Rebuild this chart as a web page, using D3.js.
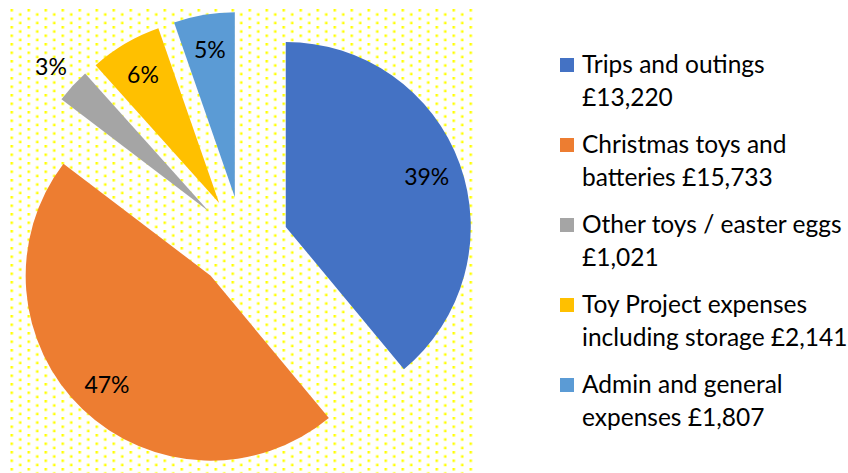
<!DOCTYPE html>
<html lang="en">
<head>
    <meta charset="UTF-8">
    <title>Expenditure pie</title>
    <script src="https://d3js.org/d3.v7.min.js"></script>
    <style>
        body {
            margin: 0;
            padding: 0;
            overflow: hidden;
            background-color: #ffffff;
            font-family: 'Lato', 'Noto Sans', sans-serif;
        }
        .pct-label {
            font-size: 23px;
            fill: #000000;
            text-anchor: middle;
            dominant-baseline: central;
        }
        .legend-text {
            font-size: 24.5px;
            fill: #000000;
        }
    </style>
</head>
<body>
    <svg id="chart" width="848" height="473"></svg>

    <script>
        // --- data ---
        const categories = [
            "Trips and outings",
            "Christmas toys and batteries",
            "Other toys / easter eggs",
            "Toy Project expenses including storage",
            "Admin and general expenses"
        ];
        const amounts = [13220, 15733, 1021, 2141, 1807];
        const pctLabels = ["39%", "47%", "3%", "6%", "5%"];
        // legend text as shown, split onto two lines
        const legendLines = [
            ["Trips and outings", "£13,220"],
            ["Christmas toys and", "batteries £15,733"],
            ["Other toys / easter eggs", "£1,021"],
            ["Toy Project expenses", "including storage £2,141"],
            ["Admin and general", "expenses £1,807"]
        ];
        const colors = ["#4472C4", "#ED7D31", "#A5A5A5", "#FFC000", "#5B9BD5"];

        // --- layout ---
        const svg = d3.select("#chart");
        const cx = 242.5, cy = 242.5;   // pie centre
        const radius = 185;
        const explode = 46;              // every slice pulled out

        // dotted plot area
        const defs = svg.append("defs");
        const pat = defs.append("pattern")
            .attr("id", "dots")
            .attr("patternUnits", "userSpaceOnUse")
            .attr("x", 10.5).attr("y", 9)
            .attr("width", 17).attr("height", 8.5);
        pat.append("rect").attr("x", 0).attr("y", 0).attr("width", 2.5).attr("height", 2.5).attr("fill", "#FFFF00");
        pat.append("rect").attr("x", 8.5).attr("y", 4.25).attr("width", 2.5).attr("height", 2.5).attr("fill", "#FFFF00");

        svg.append("rect")
            .attr("x", 10).attr("y", 9)
            .attr("width", 463).attr("height", 464)
            .attr("fill", "url(#dots)");

        const pie = d3.pie().sort(null).value(d => d);
        const arcs = pie(amounts);
        const arc = d3.arc().innerRadius(0).outerRadius(radius);
        const total = d3.sum(amounts);

        const g = svg.append("g").attr("transform", `translate(${cx},${cy})`);

        const slice = g.selectAll("g.slice")
            .data(arcs)
            .enter().append("g")
            .attr("class", "slice")
            .attr("transform", d => {
                const a = (d.startAngle + d.endAngle) / 2;
                return `translate(${Math.sin(a) * explode},${-Math.cos(a) * explode})`;
            });

        slice.append("path")
            .attr("d", arc)
            .attr("fill", (d, i) => colors[i]);

        // percentage labels: inside end, tiny slices pushed outside
        slice.append("text")
            .attr("class", "pct-label")
            .attr("transform", d => {
                const a = (d.startAngle + d.endAngle) / 2;
                const f = d.value / total < 0.04 ? 1.16 : 0.81;
                return `translate(${Math.sin(a) * radius * f},${-Math.cos(a) * radius * f})`;
            })
            .text((d, i) => pctLabels[i]);

        // --- legend ---
        const legend = svg.append("g").attr("transform", "translate(560,73)");
        const item = legend.selectAll("g")
            .data(categories)
            .enter().append("g")
            .attr("transform", (d, i) => `translate(0,${i * 80})`);

        item.append("rect")
            .attr("x", 0).attr("y", -15)
            .attr("width", 14).attr("height", 14)
            .attr("fill", (d, i) => colors[i]);

        item.append("text")
            .attr("class", "legend-text")
            .attr("x", 22)
            .selectAll("tspan")
            .data((d, i) => legendLines[i])
            .enter().append("tspan")
            .attr("x", 22)
            .attr("dy", (d, j) => j === 0 ? 0 : 33)
            .text(d => d);
    </script>
</body>
</html>
